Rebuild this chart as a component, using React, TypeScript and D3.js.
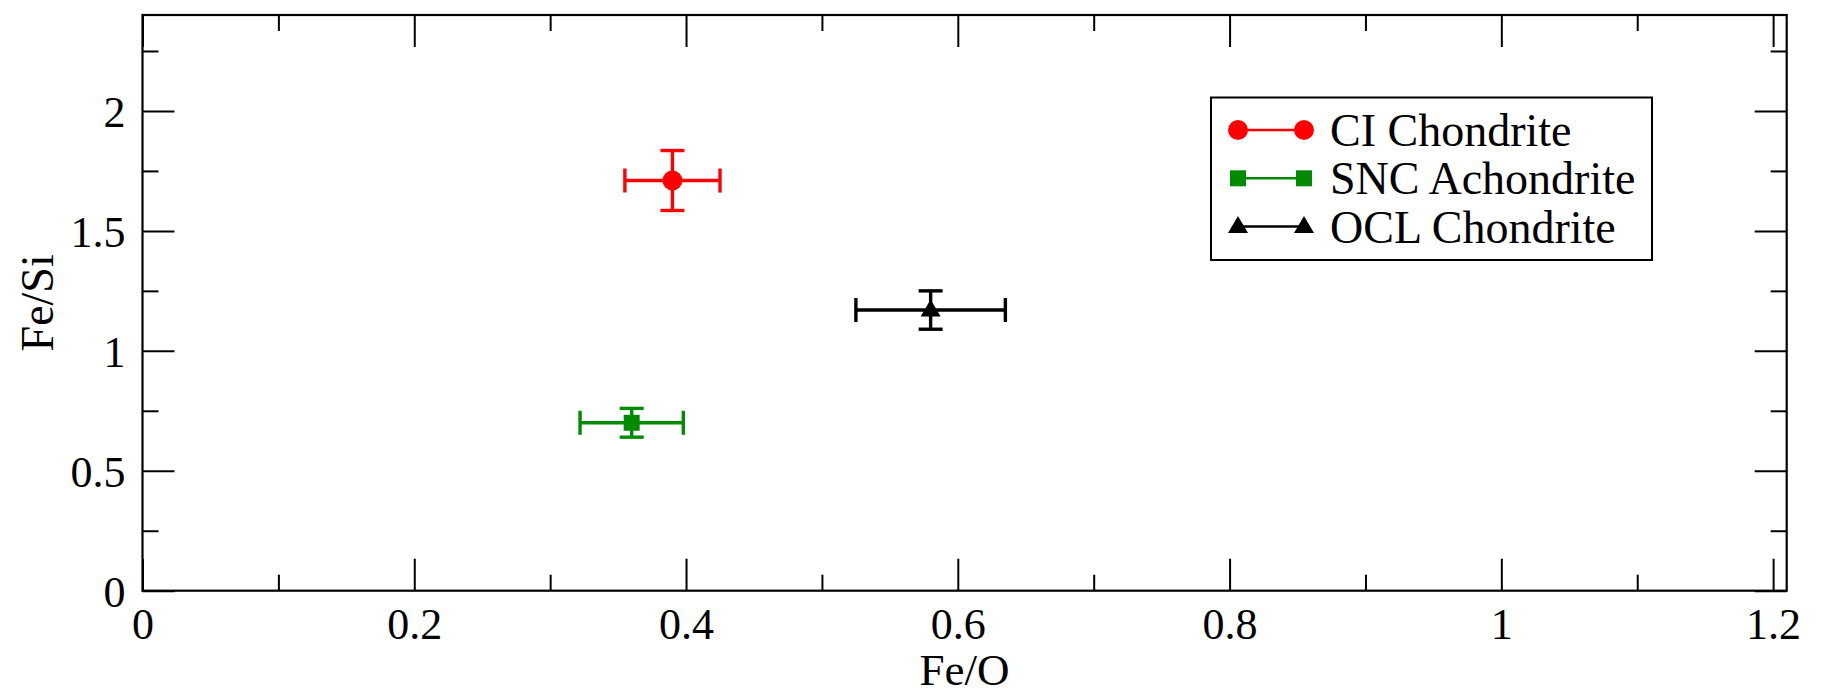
import { useEffect, useRef } from 'react';
import * as d3 from 'd3';

// Meteorite groups
const GROUPS = ['CI Chondrite', 'SNC Achondrite', 'OCL Chondrite'];
const FE_O = [0.39, 0.36, 0.58];
const FE_O_ERR = [0.035, 0.038, 0.055];
const FE_SI = [1.71, 0.70, 1.17];
const FE_SI_ERR = [0.125, 0.06, 0.08];
const COLORS = ['#ff0000', '#008b00', '#000000'];
const MARKERS = ['circle', 'square', 'triangle'];

const X_MAJOR = [0, 0.2, 0.4, 0.6, 0.8, 1, 1.2];
const X_MINOR = [0.1, 0.3, 0.5, 0.7, 0.9, 1.1];
const Y_MAJOR = [0, 0.5, 1, 1.5, 2];
const Y_MINOR = [0.25, 0.75, 1.25, 1.75, 2.25];

const W = 1842;
const H = 696;
const FONT = '"Liberation Serif", "Times New Roman", serif';

function markerPath(kind: string) {
  if (kind === 'circle') return d3.symbol(d3.symbolCircle, Math.PI * 100)() ?? '';
  if (kind === 'square') return d3.symbol(d3.symbolSquare, 256)() ?? '';
  return 'M0,-10.5L10,6.5L-10,6.5Z';
}

export default function App() {
  const svgRef = useRef<SVGSVGElement>(null);

  useEffect(() => {
    document.body.style.margin = '0';
    const svg = d3.select(svgRef.current!);
    svg.selectAll('*').remove();

    const x = d3.scaleLinear().domain([0, 1.21]).range([142.5, 1786.7]);
    const y = d3.scaleLinear().domain([0, 2.4]).range([590.7, 15]);
    const [x0, x1] = x.range();
    const [y0, y1] = y.range();

    const axisStyle = (g: d3.Selection<SVGGElement, unknown, null, undefined>) => {
      g.select('.domain').remove();
      g.selectAll('line').attr('stroke', '#000').attr('stroke-width', 2);
      g.selectAll('text').attr('font-family', FONT).attr('font-size', 44).attr('fill', '#000');
    };

    // bottom axis: labels + inward ticks
    svg.append('g').attr('transform', `translate(0,${y0})`)
      .call(d3.axisBottom(x).tickValues(X_MAJOR).tickSize(-32).tickSizeOuter(0).tickPadding(17).tickFormat((d) => `${d}`))
      .call(axisStyle);
    svg.append('g').attr('transform', `translate(0,${y0})`)
      .call(d3.axisBottom(x).tickValues(X_MINOR).tickSize(-16).tickSizeOuter(0).tickFormat(() => ''))
      .call(axisStyle);
    // top ticks
    svg.append('g').attr('transform', `translate(0,${y1})`)
      .call(d3.axisTop(x).tickValues(X_MAJOR).tickSize(-32).tickSizeOuter(0).tickFormat(() => ''))
      .call(axisStyle);
    svg.append('g').attr('transform', `translate(0,${y1})`)
      .call(d3.axisTop(x).tickValues(X_MINOR).tickSize(-16).tickSizeOuter(0).tickFormat(() => ''))
      .call(axisStyle);

    // left axis
    svg.append('g').attr('transform', `translate(${x0},0)`)
      .call(d3.axisLeft(y).tickValues(Y_MAJOR).tickSize(-32).tickSizeOuter(0).tickPadding(17).tickFormat((d) => `${d}`))
      .call(axisStyle)
      .selectAll('text').attr('dy', 16);
    svg.append('g').attr('transform', `translate(${x0},0)`)
      .call(d3.axisLeft(y).tickValues(Y_MINOR).tickSize(-16).tickSizeOuter(0).tickFormat(() => ''))
      .call(axisStyle);
    // right ticks
    svg.append('g').attr('transform', `translate(${x1},0)`)
      .call(d3.axisRight(y).tickValues(Y_MAJOR).tickSize(-32).tickSizeOuter(0).tickFormat(() => ''))
      .call(axisStyle);
    svg.append('g').attr('transform', `translate(${x1},0)`)
      .call(d3.axisRight(y).tickValues(Y_MINOR).tickSize(-16).tickSizeOuter(0).tickFormat(() => ''))
      .call(axisStyle);

    // frame
    svg.append('rect').attr('x', x0).attr('y', y1).attr('width', x1 - x0).attr('height', y0 - y1)
      .attr('fill', 'none').attr('stroke', '#000').attr('stroke-width', 2.2);

    // axis titles
    svg.append('text').attr('x', (x0 + x1) / 2).attr('y', 685).attr('text-anchor', 'middle')
      .attr('font-family', FONT).attr('font-size', 45).text('Fe/O');
    svg.append('text').attr('transform', `translate(53,${(y0 + y1) / 2}) rotate(-90)`).attr('text-anchor', 'middle')
      .attr('font-family', FONT).attr('font-size', 46).text('Fe/Si');

    // error bars + markers
    const cap = 12;
    GROUPS.forEach((_, i) => {
      const g = svg.append('g').attr('stroke', COLORS[i]).attr('stroke-width', 3.4).attr('fill', 'none');
      const cx = x(FE_O[i]);
      const cy = y(FE_SI[i]);
      const xl = x(FE_O[i] - FE_O_ERR[i]);
      const xr = x(FE_O[i] + FE_O_ERR[i]);
      const yt = y(FE_SI[i] + FE_SI_ERR[i]);
      const yb = y(FE_SI[i] - FE_SI_ERR[i]);
      g.append('line').attr('x1', xl).attr('x2', xr).attr('y1', cy).attr('y2', cy);
      g.append('line').attr('x1', xl).attr('x2', xl).attr('y1', cy - cap).attr('y2', cy + cap);
      g.append('line').attr('x1', xr).attr('x2', xr).attr('y1', cy - cap).attr('y2', cy + cap);
      g.append('line').attr('x1', cx).attr('x2', cx).attr('y1', yt).attr('y2', yb);
      g.append('line').attr('x1', cx - cap).attr('x2', cx + cap).attr('y1', yt).attr('y2', yt);
      g.append('line').attr('x1', cx - cap).attr('x2', cx + cap).attr('y1', yb).attr('y2', yb);
      svg.append('path').attr('d', markerPath(MARKERS[i])).attr('transform', `translate(${cx},${cy})`)
        .attr('fill', COLORS[i]);
    });

    // legend
    const lg = svg.append('g');
    lg.append('rect').attr('x', 1211).attr('y', 97.5).attr('width', 441).attr('height', 162.5)
      .attr('fill', '#fff').attr('stroke', '#000').attr('stroke-width', 2);
    GROUPS.forEach((name, i) => {
      const ry = 130 + i * 48.3;
      lg.append('line').attr('x1', 1238).attr('x2', 1304).attr('y1', ry).attr('y2', ry)
        .attr('stroke', COLORS[i]).attr('stroke-width', 2.5);
      [1238, 1304].forEach((mx) => {
        lg.append('path').attr('d', markerPath(MARKERS[i])).attr('transform', `translate(${mx},${ry})`)
          .attr('fill', COLORS[i]);
      });
      lg.append('text').attr('x', 1330).attr('y', ry + 16).attr('font-family', FONT).attr('font-size', 46)
        .attr('fill', '#000').text(name);
    });
  }, []);

  return <svg ref={svgRef} width={W} height={H} style={{ display: 'block', background: '#fff' }} />;
}
